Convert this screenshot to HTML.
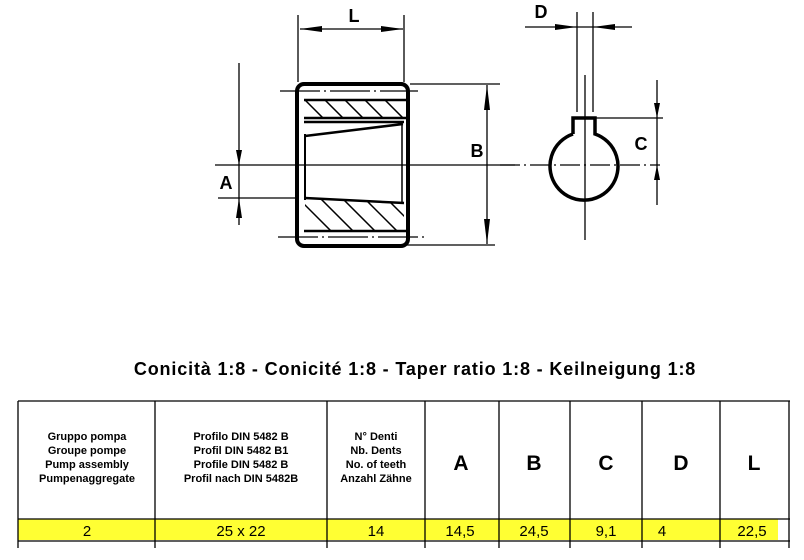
<!DOCTYPE html>
<html><head><style>
body{margin:0;background:#fff;width:804px;height:560px;overflow:hidden;font-family:"Liberation Sans",Arial,sans-serif}
svg{position:absolute;left:0;top:0}
</style></head><body>
<svg width="804" height="560" viewBox="0 0 804 560">
<defs>
<clipPath id="h1"><rect x="305" y="100" width="100" height="17"/></clipPath>
<clipPath id="h2"><polygon points="305,198 404,203 404,230 305,230"/></clipPath>
</defs>
<g stroke="#000" fill="none">
<rect x="297" y="84" width="111" height="162" rx="7" stroke-width="4"/>
<line x1="304" y1="100" x2="406" y2="100" stroke-width="2.5"/>
<line x1="304" y1="118" x2="406" y2="118" stroke-width="2.5"/>
<path d="M304,122 L404,122 M305,136 L403,124" stroke-width="2.5"/>
<line x1="305" y1="134" x2="305" y2="200" stroke-width="2"/>
<line x1="402" y1="124" x2="402" y2="204" stroke-width="1.5"/>
<path d="M305,198 L404,203" stroke-width="2.5"/>
<line x1="304" y1="231" x2="406" y2="231" stroke-width="2.5"/>
<g clip-path="url(#h1)" stroke-width="1.5">
<path d="M300,95 L330,125 M320,95 L350,125 M340,95 L370,125 M360,95 L390,125 M380,95 L410,125 M400,95 L430,125"/>
</g>
<g clip-path="url(#h2)" stroke-width="1.5">
<path d="M290,190 L335,235 M312,190 L357,235 M334,190 L379,235 M356,190 L401,235 M378,190 L423,235 M400,190 L445,235"/>
</g>
<line x1="215" y1="165" x2="515" y2="165" stroke-width="1.3"/>
<line x1="280" y1="91" x2="418" y2="91" stroke-width="1.2" stroke-dasharray="40,4,2,4"/>
<line x1="278" y1="237" x2="428" y2="237" stroke-width="1.2" stroke-dasharray="40,4,2,4"/>
<line x1="298" y1="15" x2="298" y2="82" stroke-width="1.3"/>
<line x1="404" y1="15" x2="404" y2="82" stroke-width="1.3"/>
<line x1="300" y1="29" x2="403" y2="29" stroke-width="1.3"/>
<line x1="410" y1="84" x2="500" y2="84" stroke-width="1.3"/>
<line x1="405" y1="245" x2="495" y2="245" stroke-width="1.3"/>
<line x1="487" y1="85" x2="487" y2="244" stroke-width="1.3"/>
<line x1="239" y1="63" x2="239" y2="225" stroke-width="1.3"/>
<line x1="218" y1="198" x2="295" y2="198" stroke-width="1.3"/>
<path d="M573,134 L573,118 L595,118 L595,134 A34,34 0 1 1 573,134" stroke-width="3.5"/>
<line x1="577" y1="12" x2="577" y2="112" stroke-width="1.3"/>
<line x1="593" y1="12" x2="593" y2="112" stroke-width="1.3"/>
<line x1="585" y1="75" x2="585" y2="240" stroke-width="1.3"/>
<line x1="525" y1="27" x2="632" y2="27" stroke-width="1.3"/>
<line x1="500" y1="165" x2="660" y2="165" stroke-width="1.3" stroke-dasharray="20,4,2,4"/>
<line x1="595" y1="118" x2="663" y2="118" stroke-width="1.3"/>
<line x1="657" y1="80" x2="657" y2="205" stroke-width="1.3"/>
</g>
<g fill="#000">
<polygon points="300,29 322,26 322,32"/><polygon points="403,29 381,26 381,32"/>
<polygon points="487,85 484,110 490,110"/><polygon points="487,244 484,219 490,219"/>
<polygon points="239,165 236,150 242,150"/><polygon points="239,198 236,218 242,218"/>
<polygon points="577,27 555,24 555,30"/><polygon points="593,27 615,24 615,30"/>
<polygon points="657,118 654,103 660,103"/><polygon points="657,165 654,180 660,180"/>
</g>
<g font-weight="bold" font-size="18" fill="#000" text-anchor="middle">
<text x="354" y="22">L</text><text x="477" y="157">B</text><text x="226" y="189">A</text>
<text x="541" y="18">D</text><text x="641" y="150">C</text>
</g>
<text x="415" y="375" text-anchor="middle" font-weight="bold" font-size="18" letter-spacing="0.85">Conicità 1:8 - Conicité 1:8 - Taper ratio 1:8 - Keilneigung 1:8</text>
<rect x="18" y="519" width="760" height="21" fill="#ffff33"/>
<g stroke="#000" stroke-width="1.3">
<line x1="18" y1="401" x2="790" y2="401"/>
<line x1="18" y1="519" x2="790" y2="519"/>
<line x1="18" y1="541" x2="790" y2="541"/>
<line x1="18" y1="401" x2="18" y2="548"/>
<line x1="155" y1="401" x2="155" y2="548"/>
<line x1="327" y1="401" x2="327" y2="548"/>
<line x1="425" y1="401" x2="425" y2="548"/>
<line x1="499" y1="401" x2="499" y2="548"/>
<line x1="570" y1="401" x2="570" y2="548"/>
<line x1="642" y1="401" x2="642" y2="548"/>
<line x1="720" y1="401" x2="720" y2="548"/>
<line x1="789" y1="401" x2="789" y2="548"/>
</g>
<g font-size="11" font-weight="bold" text-anchor="middle" fill="#000">
<text x="87" y="440">Gruppo pompa</text><text x="87" y="454">Groupe pompe</text><text x="87" y="468">Pump assembly</text><text x="87" y="482">Pumpenaggregate</text>
<text x="241" y="440">Profilo DIN 5482 B</text><text x="241" y="454">Profil DIN 5482 B1</text><text x="241" y="468">Profile DIN 5482 B</text><text x="241" y="482">Profil nach DIN 5482B</text>
<text x="376" y="440">N° Denti</text><text x="376" y="454">Nb. Dents</text><text x="376" y="468">No. of teeth</text><text x="376" y="482">Anzahl Zähne</text>
</g>
<g font-size="21" font-weight="bold" text-anchor="middle">
<text x="461" y="470">A</text><text x="534" y="470">B</text><text x="606" y="470">C</text><text x="681" y="470">D</text><text x="754" y="470">L</text>
</g>
<g font-size="15" text-anchor="middle">
<text x="87" y="536">2</text><text x="241" y="536">25 x 22</text><text x="376" y="536">14</text>
<text x="460" y="536">14,5</text><text x="534" y="536">24,5</text><text x="606" y="536">9,1</text><text x="662" y="536">4</text><text x="752" y="536">22,5</text>
</g>
</svg>
</body></html>
